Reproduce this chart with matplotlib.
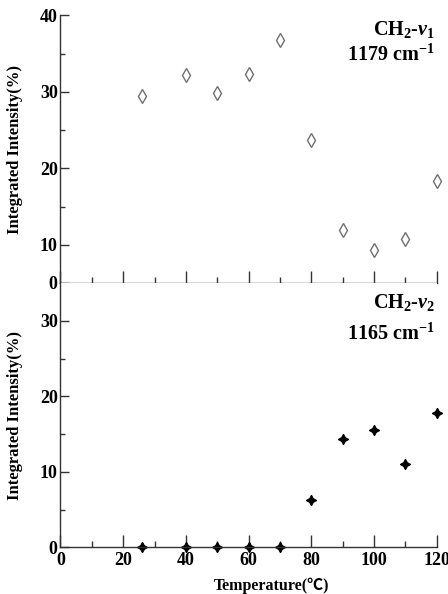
import numpy as np
import matplotlib
matplotlib.use("Agg")
import matplotlib.pyplot as plt

plt.rcParams['font.family'] = ['Liberation Serif', 'Noto Sans CJK JP', 'DejaVu Serif']
plt.rcParams['font.weight'] = 'bold'
plt.rcParams['mathtext.fontset'] = 'custom'
plt.rcParams['mathtext.rm'] = 'Liberation Serif:bold'
plt.rcParams['mathtext.it'] = 'Liberation Serif:italic:bold'
plt.rcParams['mathtext.bf'] = 'Liberation Serif:bold'

temps = [26, 40, 50, 60, 70, 80, 90, 100, 110, 120]
nu1 = [29.5, 32.2, 29.8, 32.3, 36.8, 23.7, 11.9, 9.3, 10.8, 18.3]
nu2 = [0.0, 0.0, 0.0, 0.0, 0.0, 6.3, 14.3, 15.5, 11.0, 17.8]

top_ticks = [5, 10, 20, 30, 40]
top_ticklabels = ['0', '10', '20', '30', '40']
bot_ticks = [0, 10, 20, 30]
x_ticks = [0, 20, 40, 60, 80, 100, 120]

fig = plt.figure(figsize=(4.48, 5.94), dpi=100)
left, right = 0.135, 0.975
ax1 = fig.add_axes([left, 0.5236, right - left, 0.974 - 0.5236])
ax2 = fig.add_axes([left, 0.0785, right - left, 0.5236 - 0.0785])

spine_col = '#333333'
for ax in (ax1, ax2):
    ax.spines['top'].set_visible(False)
    ax.spines['right'].set_visible(False)
    for s in ('left', 'bottom'):
        ax.spines[s].set_color(spine_col)
        ax.spines[s].set_linewidth(1.0)
    ax.set_xlim(0, 120)
    ax.set_xticks(x_ticks)
    ax.set_xticks(np.arange(10, 120, 20), minor=True)
    ax.tick_params(axis='x', which='major', direction='in', length=9, width=1, color=spine_col, labelsize=13)
    ax.tick_params(axis='x', which='minor', direction='in', length=4.5, width=1, color=spine_col)
    ax.tick_params(axis='y', which='major', direction='in', length=6.5, width=1, color=spine_col, labelsize=13, pad=2)
    ax.tick_params(axis='y', which='minor', direction='in', length=3.5, width=1, color=spine_col)
    ax.set_ylabel('Integrated Intensity(%)', fontsize=12, fontweight='bold')
    ax.yaxis.set_label_coords(-0.1, 0.5)

ax1.plot(temps, nu1, linestyle='none', marker='d', markersize=7.5, markerfacecolor='white',
         markeredgecolor='#707070', markeredgewidth=1.0, clip_on=False)
ax1.set_ylim(5, 40)
ax1.set_yticks(top_ticks)
ax1.set_yticklabels(top_ticklabels)
ax1.set_yticks([15, 25, 35], minor=True)
ax1.tick_params(axis='x', labelbottom=False)
ax1.text(0.995, 0.985, r'CH$_2$-$\nu_1$', transform=ax1.transAxes, ha='right', va='top',
         fontsize=14.5, fontweight='bold')
ax1.text(0.995, 0.89, r'1179 cm$^{-1}$', transform=ax1.transAxes, ha='right', va='top',
         fontsize=14.5, fontweight='bold')

ax2.plot(temps, nu2, linestyle='none', marker=(4, 1, 0), markersize=7.5, markerfacecolor='black',
         markeredgecolor='black', markeredgewidth=0.8, clip_on=False)
ax2.set_ylim(0, 35)
ax2.set_yticks(bot_ticks)
ax2.set_yticks([5, 15, 25], minor=True)
ax2.text(0.995, 0.965, r'CH$_2$-$\nu_2$', transform=ax2.transAxes, ha='right', va='top',
         fontsize=14.5, fontweight='bold')
ax2.text(0.995, 0.845, r'1165 cm$^{-1}$', transform=ax2.transAxes, ha='right', va='top',
         fontsize=14.5, fontweight='bold')
ax2.set_xlabel('Temperature(℃)', fontsize=11.5, fontweight='bold')
ax2.xaxis.set_label_coords(0.56, -0.115)

fig.savefig('out.png', dpi=100)
